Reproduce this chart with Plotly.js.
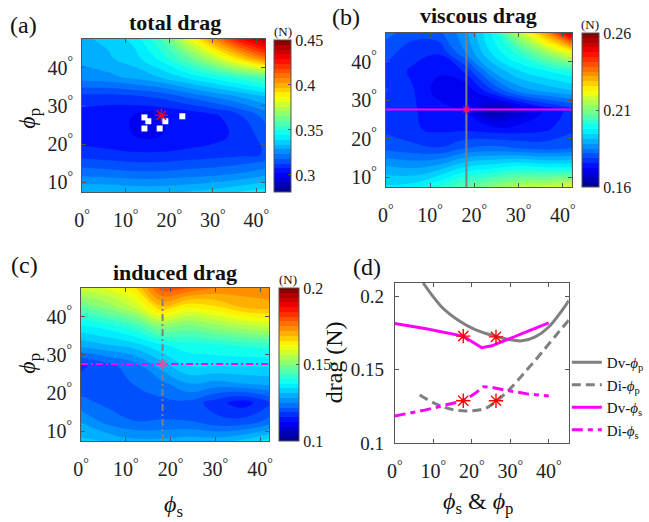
<!DOCTYPE html>
<html><head><meta charset="utf-8">
<script src="https://cdn.plot.ly/plotly-3.0.1.min.js"></script>
<style>body{margin:0;background:#fff}#chart{width:649px;height:522px}</style>
</head><body><div id="chart"></div>
<script>
// ---------- grid of the three maps ----------
const phi_s = [0, 6, 12, 18, 24, 30, 36, 42];
const phi_p = [7.5, 12.5, 17.5, 22.5, 27.5, 32.5, 37.5, 42.5, 47.5];

// rows follow phi_p (bottom to top), columns follow phi_s
const total_drag = [
  [0.334, 0.334, 0.333, 0.333, 0.334, 0.336, 0.339, 0.342],
  [0.321, 0.320, 0.319, 0.319, 0.320, 0.321, 0.323, 0.326],
  [0.310, 0.309, 0.308, 0.308, 0.309, 0.310, 0.311, 0.313],
  [0.304, 0.303, 0.302, 0.302, 0.303, 0.305, 0.309, 0.315],
  [0.305, 0.303, 0.302, 0.302, 0.303, 0.306, 0.312, 0.320],
  [0.311, 0.311, 0.312, 0.314, 0.319, 0.324, 0.329, 0.334],
  [0.326, 0.327, 0.330, 0.334, 0.340, 0.346, 0.352, 0.358],
  [0.330, 0.333, 0.337, 0.346, 0.359, 0.375, 0.393, 0.410],
  [0.333, 0.335, 0.341, 0.355, 0.380, 0.405, 0.428, 0.443]
];
const viscous_drag = [
  [0.195, 0.196, 0.201, 0.207, 0.211, 0.215, 0.217, 0.220],
  [0.189, 0.188, 0.190, 0.195, 0.197, 0.199, 0.198, 0.198],
  [0.181, 0.180, 0.179, 0.182, 0.183, 0.182, 0.181, 0.182],
  [0.178, 0.176, 0.175, 0.175, 0.174, 0.174, 0.175, 0.178],
  [0.177, 0.176, 0.174, 0.172, 0.163, 0.167, 0.173, 0.177],
  [0.179, 0.176, 0.171, 0.170, 0.178, 0.186, 0.189, 0.191],
  [0.178, 0.175, 0.173, 0.176, 0.188, 0.194, 0.197, 0.200],
  [0.180, 0.177, 0.176, 0.185, 0.195, 0.202, 0.212, 0.222],
  [0.183, 0.180, 0.181, 0.187, 0.198, 0.215, 0.232, 0.255]
];
const induced_drag = [
  [0.132, 0.131, 0.129, 0.129, 0.130, 0.130, 0.132, 0.136],
  [0.128, 0.124, 0.122, 0.122, 0.122, 0.120, 0.120, 0.123],
  [0.123, 0.121, 0.120, 0.121, 0.121, 0.117, 0.114, 0.118],
  [0.120, 0.121, 0.122, 0.124, 0.128, 0.127, 0.128, 0.129],
  [0.118, 0.121, 0.124, 0.130, 0.135, 0.135, 0.135, 0.135],
  [0.129, 0.131, 0.133, 0.137, 0.139, 0.140, 0.141, 0.142],
  [0.137, 0.139, 0.143, 0.151, 0.149, 0.152, 0.155, 0.157],
  [0.147, 0.151, 0.157, 0.168, 0.163, 0.165, 0.169, 0.170],
  [0.158, 0.160, 0.165, 0.180, 0.178, 0.175, 0.174, 0.175]
];

// optimum and sampled designs
const opt_phi_s = [18.2];
const opt_phi_p = [27.6];
const sample_phi_s = [14.3, 15.2, 19.1, 23.0, 14.3, 17.8];
const sample_phi_p = [27.0, 26.0, 26.0, 27.3, 24.1, 24.1];

// colorbar ranges and ticks
const cb_a = {min: 0.281, max: 0.45, ticks: [0.3, 0.35, 0.4, 0.45], labels: ['0.3', '0.35', '0.4', '0.45']};
const cb_b = {min: 0.16, max: 0.26, ticks: [0.16, 0.21, 0.26], labels: ['0.16', '0.21', '0.26']};
const cb_c = {min: 0.1, max: 0.2, ticks: [0.1, 0.15, 0.2], labels: ['0.1', '0.15', '0.2']};

const angle_ticks = [0, 10, 20, 30, 40];
const angle_labels = ['0<sup>°</sup>', '10<sup>°</sup>', '20<sup>°</sup>', '30<sup>°</sup>', '40<sup>°</sup>'];
const pp_ticks = [10, 20, 30, 40];
const pp_labels = ['10<sup>°</sup>', '20<sup>°</sup>', '30<sup>°</sup>', '40<sup>°</sup>'];

// ---------- panel (d) ----------
const dv_p_x = [7.4, 12.2, 16.5, 20.9, 26.1, 29.6, 33.0, 36.5, 40.0, 43.5, 45.2];
const dv_p_y = [0.209, 0.1927, 0.1837, 0.1773, 0.1728, 0.1705, 0.1696, 0.1723, 0.179, 0.1905, 0.197];
const di_p_x = [6.5, 10.4, 14.8, 19.1, 23.5, 26.5, 29.6, 33.9, 38.3, 42.6, 45.2];
const di_p_y = [0.1327, 0.127, 0.1229, 0.1218, 0.1236, 0.1288, 0.136, 0.1485, 0.162, 0.1757, 0.1837];
const dv_s_x = [0, 7.8, 17.8, 19.6, 22.6, 25.2, 29.6, 34.8, 40];
const dv_s_y = [0.1814, 0.178, 0.1728, 0.170, 0.1649, 0.1662, 0.1707, 0.1764, 0.1819];
const di_s_x = [0, 7.8, 17.8, 20.9, 23.0, 25.2, 29.6, 34.8, 40];
const di_s_y = [0.1184, 0.1224, 0.1288, 0.1338, 0.1383, 0.1379, 0.1356, 0.1333, 0.132];
const star_x = [17.8, 26.3, 17.8, 26.3];
const star_y = [0.1728, 0.1723, 0.1288, 0.1288];
const d_yticks = [0.1, 0.15, 0.2];
const d_ylabels = ['0.1', '0.15', '0.2'];

// ---------- drawing ----------
const W = 649, H = 522;
const fx = p => p / W;
const fy = p => 1 - p / H;
const FONT = 'Liberation Serif';
const GRAY = 'rgb(128,128,128)';
const MAG = 'rgb(255,0,255)';
const jet = [[0, 'rgb(0,0,140)'], [0.125, 'rgb(0,0,255)'], [0.375, 'rgb(0,255,255)'],
             [0.625, 'rgb(255,255,0)'], [0.875, 'rgb(255,0,0)'], [1, 'rgb(128,0,0)']];

function mapTrace(z, xa, ya, cb, box) {
  return {
    type: 'contour', x: phi_s, y: phi_p, z: z, xaxis: xa, yaxis: ya,
    colorscale: jet, zauto: false, zmin: cb.min, zmax: cb.max,
    autocontour: false,
    contours: {start: cb.min, end: cb.max, size: (cb.max - cb.min) / 32, coloring: 'fill', showlines: false},
    line: {width: 0, smoothing: 1.3},
    hoverinfo: 'skip', showlegend: false,
    colorbar: {
      x: fx(box.x), xanchor: 'left', y: fy(box.top), yanchor: 'top',
      len: (box.bottom - box.top) / H, lenmode: 'fraction',
      thickness: box.w, thicknessmode: 'pixels', xpad: 0, ypad: 0,
      outlinewidth: 1, outlinecolor: '#555',
      tickvals: cb.ticks, ticktext: cb.labels, ticks: 'inside', ticklen: 3, tickcolor: '#555',
      tickfont: {family: FONT, size: 16, color: '#222'}
    }
  };
}

function star(x, y, xa, ya, size, color) {
  return {type: 'scatter', mode: 'markers', x: x, y: y, xaxis: xa, yaxis: ya,
    marker: {symbol: 'asterisk-open', size: size, color: color, line: {color: color, width: 1.4}},
    showlegend: false, hoverinfo: 'skip'};
}

const traces = [
  mapTrace(total_drag, 'x', 'y', cb_a, {x: 277, w: 17, top: 40, bottom: 192}),
  {type: 'scatter', mode: 'markers', x: sample_phi_s, y: sample_phi_p, xaxis: 'x', yaxis: 'y',
   marker: {symbol: 'square', size: 6, color: '#fff'}, showlegend: false, hoverinfo: 'skip'},
  star(opt_phi_s, opt_phi_p, 'x', 'y', 11, 'rgb(255,0,0)'),

  mapTrace(viscous_drag, 'x2', 'y2', cb_b, {x: 588, w: 17, top: 33, bottom: 187}),
  {type: 'scatter', mode: 'lines', x: [opt_phi_s[0], opt_phi_s[0]], y: [phi_p[0], phi_p[phi_p.length - 1]],
   xaxis: 'x2', yaxis: 'y2', line: {color: GRAY, width: 2}, showlegend: false, hoverinfo: 'skip'},
  {type: 'scatter', mode: 'lines', x: [phi_s[0], phi_s[phi_s.length - 1]], y: [opt_phi_p[0], opt_phi_p[0]],
   xaxis: 'x2', yaxis: 'y2', line: {color: MAG, width: 2}, showlegend: false, hoverinfo: 'skip'},
  star(opt_phi_s, opt_phi_p, 'x2', 'y2', 7, 'rgba(255,20,60,0.85)'),

  mapTrace(induced_drag, 'x3', 'y3', cb_c, {x: 282, w: 20, top: 288, bottom: 441}),
  {type: 'scatter', mode: 'lines', x: [opt_phi_s[0], opt_phi_s[0]], y: [phi_p[0], phi_p[phi_p.length - 1]],
   xaxis: 'x3', yaxis: 'y3', line: {color: GRAY, width: 2, dash: '7px,3px,2px,3px'}, showlegend: false, hoverinfo: 'skip'},
  {type: 'scatter', mode: 'lines', x: [phi_s[0], phi_s[phi_s.length - 1]], y: [opt_phi_p[0], opt_phi_p[0]],
   xaxis: 'x3', yaxis: 'y3', line: {color: MAG, width: 2, dash: '7px,3px,2px,3px'}, showlegend: false, hoverinfo: 'skip'},
  star(opt_phi_s, opt_phi_p, 'x3', 'y3', 9, 'rgba(210,90,150,0.9)'),

  {type: 'scatter', mode: 'lines', name: 'Dv-<i>ϕ</i><sub>p</sub>', x: dv_p_x, y: dv_p_y, xaxis: 'x4', yaxis: 'y4',
   line: {color: GRAY, width: 3, shape: 'spline'}, legendgroup: 'a', hoverinfo: 'skip'},
  {type: 'scatter', mode: 'lines', name: 'Di-<i>ϕ</i><sub>p</sub>', x: di_p_x, y: di_p_y, xaxis: 'x4', yaxis: 'y4',
   line: {color: GRAY, width: 3, shape: 'spline', dash: '9px,5px'}, legendgroup: 'b', hoverinfo: 'skip'},
  {type: 'scatter', mode: 'lines', name: 'Dv-<i>ϕ</i><sub>s</sub>', x: dv_s_x, y: dv_s_y, xaxis: 'x4', yaxis: 'y4',
   line: {color: MAG, width: 3}, legendgroup: 'c', hoverinfo: 'skip'},
  {type: 'scatter', mode: 'lines', name: 'Di-<i>ϕ</i><sub>s</sub>', x: di_s_x, y: di_s_y, xaxis: 'x4', yaxis: 'y4',
   line: {color: MAG, width: 3, dash: '11px,5px,5px,5px'}, legendgroup: 'd', hoverinfo: 'skip'},
  star(star_x, star_y, 'x4', 'y4', 12, 'rgb(255,0,0)')
];

function ax(domain, range, tickvals, ticktext, anchor, fsize, standoff) {
  return {
    domain: domain, range: range, anchor: anchor, tickvals: tickvals, ticktext: ticktext,
    showline: true, mirror: 'ticks', linecolor: '#555', linewidth: 1,
    ticks: 'inside', ticklen: 4, tickcolor: '#555',
    showgrid: false, zeroline: false, fixedrange: true,
    tickfont: {family: FONT, size: fsize, color: '#222'},
    ticklabelstandoff: standoff
  };
}

const layout = {
  width: W, height: H, margin: {l: 0, r: 0, t: 0, b: 0},
  paper_bgcolor: '#fff', plot_bgcolor: '#fff',
  font: {family: FONT, color: '#111'},
  xaxis:  ax([fx(83), fx(268)], [0, 42], angle_ticks, angle_labels, 'y', 20, 10),
  yaxis:  ax([fy(192), fy(39)], [7.5, 47.5], pp_ticks, pp_labels, 'x', 20, 4),
  xaxis2: ax([fx(390), fx(578)], [0, 42], angle_ticks, angle_labels, 'y2', 20, 10),
  yaxis2: ax([fy(187), fy(33)], [7.5, 47.5], pp_ticks, pp_labels, 'x2', 20, 4),
  xaxis3: ax([fx(82), fx(272)], [0, 42], angle_ticks, angle_labels, 'y3', 20, 10),
  yaxis3: ax([fy(441), fy(288)], [7.5, 47.5], pp_ticks, pp_labels, 'x3', 20, 4),
  xaxis4: ax([fx(399), fx(575)], [0, 45.2], angle_ticks, angle_labels, 'y4', 20, 10),
  yaxis4: ax([fy(443), fy(283)], [0.1, 0.209], d_yticks, d_ylabels, 'x4', 19, 6),
  showlegend: true,
  legend: {
    x: fx(573), xanchor: 'left', y: fy(346), yanchor: 'top',
    bgcolor: 'rgba(0,0,0,0)', borderwidth: 0, tracegroupgap: 0,
    font: {family: FONT, size: 15, color: '#111'}, itemwidth: 30
  },
  annotations: [
    {text: '(a)', x: fx(24), y: fy(25)},
    {text: '(b)', x: fx(350), y: fy(17)},
    {text: '(c)', x: fx(25), y: fy(265)},
    {text: '(d)', x: fx(371), y: fy(267)},
    {text: '<b>total drag</b>', x: fx(177), y: fy(22), size: 22},
    {text: '<b>viscous drag</b>', x: fx(484), y: fy(15), size: 22},
    {text: '<b>induced drag</b>', x: fx(177), y: fy(272), size: 22},
    {text: '(N)', x: fx(286), y: fy(32), size: 13},
    {text: '(N)', x: fx(596), y: fy(25), size: 13},
    {text: '(N)', x: fx(291), y: fy(279), size: 13},
    {text: '<i>ϕ</i><sub>p</sub>', x: fx(29), y: fy(118), size: 24, rot: -90},
    {text: '<i>ϕ</i><sub>p</sub>', x: fx(29), y: fy(363), size: 24, rot: -90},
    {text: '<i>ϕ</i><sub>s</sub>', x: fx(175), y: fy(506), size: 24},
    {text: 'drag (N)', x: fx(338), y: fy(362), size: 24, rot: -90},
    {text: '<i>ϕ</i><sub>s</sub> &amp; <i>ϕ</i><sub>p</sub>', x: fx(483), y: fy(503), size: 24}
  ].map(a => ({
    text: a.text, x: a.x, y: a.y, xref: 'paper', yref: 'paper',
    xanchor: 'center', yanchor: 'middle', showarrow: false, textangle: a.rot || 0,
    font: {family: FONT, size: a.size || 24, color: '#111'}
  }))
};

Plotly.newPlot('chart', traces, layout, {staticPlot: true, displayModeBar: false});
</script>
</body></html>
